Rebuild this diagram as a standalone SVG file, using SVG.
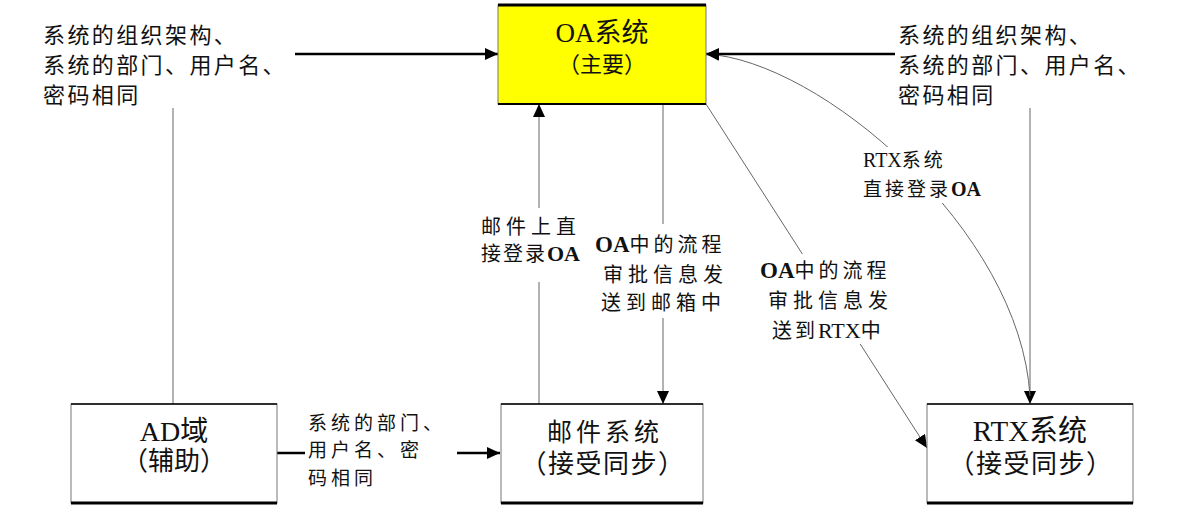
<svg xmlns="http://www.w3.org/2000/svg" width="1182" height="518" viewBox="0 0 1182 518">
<style>
.t{font-family:"Liberation Serif","Noto Sans CJK SC",serif;fill:#111}
.lbl{font-size:22px;letter-spacing:2.4px}
.mid{font-size:20px;letter-spacing:5px}
.sm{font-size:19px;letter-spacing:3px}
.ttl{font-size:27px;text-anchor:middle}
.sub{font-size:24px;text-anchor:middle}
.thin{stroke:#666;stroke-width:1;fill:none}
.thick{stroke:#000;stroke-width:2.5;fill:none}
.side{stroke:#777;stroke-width:1}
.bg{fill:#fff}
.b{font-weight:bold}
</style>
<defs>
<marker id="ah" markerUnits="userSpaceOnUse" markerWidth="14" markerHeight="12" refX="13" refY="6" orient="auto">
<path d="M0,0 L13,6 L0,12 z" fill="#000"/>
</marker>
</defs>
<rect width="1182" height="518" fill="#fff"/>

<g id="connectors">
<line class="thick" x1="295" y1="54" x2="498" y2="54" marker-end="url(#ah)"/>
<line class="thick" x1="895" y1="54" x2="706" y2="54" marker-end="url(#ah)"/>
<line class="thin" x1="173" y1="108" x2="173" y2="404"/>
<line class="thin" x1="1030" y1="108" x2="1030" y2="404" marker-end="url(#ah)"/>
<line class="thin" x1="539" y1="404" x2="539" y2="104" marker-end="url(#ah)"/>
<line class="thin" x1="663" y1="104" x2="663" y2="404" marker-end="url(#ah)"/>
<line class="thin" x1="706" y1="104" x2="927" y2="448" marker-end="url(#ah)"/>
<path class="thin" d="M1030,396 C1020,230 820,60 706,54" marker-end="url(#ah)"/>
<line class="thick" x1="277" y1="453" x2="500" y2="453" marker-end="url(#ah)"/>
</g>

<g id="oa">
<rect x="498" y="5" width="208" height="99" fill="#ffff00" class="side"/>
<line x1="498" y1="5" x2="706" y2="5" stroke="#000" stroke-width="3"/>
<line x1="498" y1="104" x2="706" y2="104" stroke="#000" stroke-width="2"/>
<text class="t ttl" x="602" y="42">OA系统</text>
<text class="t sub" x="602" y="72" style="font-size:22px">（主要）</text>
</g>

<g id="ad">
<rect x="71" y="404" width="206" height="99" fill="#fff" class="side"/>
<line x1="71" y1="404" x2="277" y2="404" stroke="#000" stroke-width="1.5"/>
<line x1="71" y1="503" x2="277" y2="503" stroke="#000" stroke-width="3"/>
<text class="t ttl" x="174" y="441" style="font-size:28px">AD域</text>
<text class="t sub" x="174" y="470" style="font-size:26px">（辅助）</text>
</g>

<g id="mail">
<rect x="501" y="404" width="202" height="99" fill="#fff" class="side"/>
<line x1="501" y1="404" x2="703" y2="404" stroke="#000" stroke-width="1.5"/>
<line x1="501" y1="503" x2="703" y2="503" stroke="#000" stroke-width="3"/>
<text class="t ttl" x="605" y="441" style="font-size:25px;letter-spacing:4px">邮件系统</text>
<text class="t sub" x="603" y="473" style="font-size:26px;letter-spacing:1.5px">（接受同步）</text>
</g>

<g id="rtx">
<rect x="927" y="404" width="206" height="99" fill="#fff" class="side"/>
<line x1="927" y1="404" x2="1133" y2="404" stroke="#000" stroke-width="1.5"/>
<line x1="927" y1="503" x2="1133" y2="503" stroke="#000" stroke-width="3"/>
<text class="t ttl" x="1030" y="441" style="font-size:29px">RTX系统</text>
<text class="t sub" x="1031" y="473" style="font-size:26px;letter-spacing:1.5px">（接受同步）</text>
</g>

<g id="label-left-top">
<text class="t lbl" x="43" y="43">系统的组织架构、</text>
<text class="t lbl" x="43" y="73">系统的部门、用户名、</text>
<text class="t lbl" x="43" y="103">密码相同</text>
</g>

<g id="label-right-top">
<text class="t lbl" x="898" y="43">系统的组织架构、</text>
<text class="t lbl" x="898" y="73">系统的部门、用户名、</text>
<text class="t lbl" x="898" y="103">密码相同</text>
</g>

<g id="label-ad-mail">
<rect class="bg" x="305" y="408" width="152" height="84"/>
<text class="t" x="308" y="430" style="font-size:19px;letter-spacing:4px">系统的部门、</text>
<text class="t" x="308" y="457" style="font-size:19px;letter-spacing:4px">用户名、密</text>
<text class="t" x="308" y="485" style="font-size:19px;letter-spacing:4px">码相同</text>
</g>

<g id="label-mail-login">
<rect class="bg" x="478" y="208" width="115" height="74"/>
<text class="t mid" x="481" y="234">邮件上直</text>
<text class="t mid" x="481" y="261" style="letter-spacing:2px">接登录<tspan class="b" style="font-size:22px;letter-spacing:0">OA</tspan></text>
</g>

<g id="label-oa-mail">
<rect class="bg" x="594" y="224" width="138" height="94"/>
<text class="t mid" x="595" y="252" style="letter-spacing:4px"><tspan class="b" style="font-size:23px;letter-spacing:0">OA</tspan>中的流程</text>
<text class="t mid" x="603" y="282">审批信息发</text>
<text class="t mid" x="601" y="310">送到邮箱中</text>
</g>

<g id="label-oa-rtx">
<rect class="bg" x="757" y="254" width="143" height="90"/>
<text class="t mid" x="760" y="278" style="letter-spacing:4px"><tspan class="b" style="font-size:23px;letter-spacing:0">OA</tspan>中的流程</text>
<text class="t mid" x="768" y="308">审批信息发</text>
<text class="t mid" x="772" y="338" style="letter-spacing:3px">送到<tspan style="letter-spacing:0;font-size:22px">RTX</tspan>中</text>
</g>

<g id="label-rtx-login">
<rect class="bg" x="860" y="147" width="124" height="56"/>
<text class="t sm" x="863" y="167"><tspan style="letter-spacing:0;font-size:20px">RTX</tspan>系统</text>
<text class="t sm" x="863" y="196">直接登录<tspan class="b" style="letter-spacing:0;font-size:20px">OA</tspan></text>
</g>
</svg>
